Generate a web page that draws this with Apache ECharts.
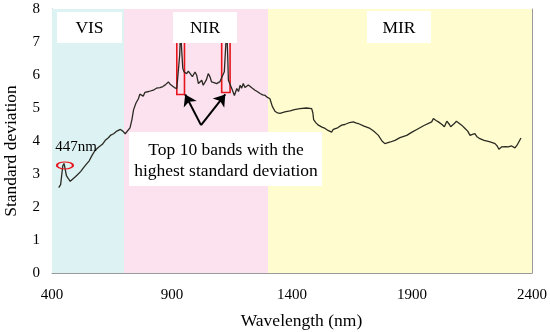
<!DOCTYPE html>
<html><head><meta charset="utf-8">
<script src="https://cdn.jsdelivr.net/npm/echarts@6/dist/echarts.min.js"></script>
<style>html,body{margin:0;padding:0;background:#fff}#c{width:550px;height:332px}</style>
</head><body><div id="c"></div>
<script>
// ---- data ----
const wavelength = [428,436,441,445,450,455,460,468,476,483,495,504,512,520,530,539,547,555,568,580,595,610,622,635,645,657,670,685,695,705,712,725,733,740,750,760,766,774,780,787,795,803,810,822,835,850,862,872,885,892,899,910,920,926,932,936,940,945,950,961,968,975,985,996,1003,1010,1024,1030,1043,1051,1058,1065,1075,1086,1100,1107,1118,1124,1128,1132,1135,1149,1160,1170,1177,1184,1190,1197,1204,1211,1218,1225,1235,1246,1255,1267,1278,1288,1298,1308,1318,1329,1340,1350,1370,1392,1410,1433,1460,1482,1487,1490,1500,1510,1525,1538,1550,1565,1572,1579,1590,1607,1620,1640,1655,1666,1676,1700,1725,1740,1760,1775,1787,1810,1829,1850,1878,1900,1920,1950,1982,1989,2000,2010,2025,2035,2045,2051,2056,2061,2075,2085,2093,2107,2121,2132,2142,2152,2162,2172,2183,2200,2218,2232,2246,2255,2262,2267,2273,2280,2290,2301,2308,2315,2322,2329,2340,2354];
const stdDev = [2.59,2.68,3.0,3.25,3.32,3.15,2.95,2.86,2.78,2.81,2.9,2.96,3.0,3.08,3.18,3.26,3.3,3.4,3.58,3.72,3.82,3.9,4.02,4.1,4.18,4.22,4.3,4.35,4.3,4.22,4.2,4.4,4.65,4.95,5.15,5.28,5.42,5.44,5.36,5.47,5.44,5.5,5.47,5.54,5.6,5.62,5.65,5.7,5.79,5.72,5.69,5.62,5.59,5.62,6.6,7.4,6.8,6.2,6.1,6.04,6.12,6.14,5.95,6.09,5.99,5.74,5.84,5.69,5.85,6.04,5.95,5.79,5.77,5.74,5.8,5.79,6.1,6.9,7.4,6.6,5.84,5.59,5.38,5.59,5.5,5.69,5.6,5.74,5.62,5.59,5.7,5.69,5.6,5.54,5.5,5.44,5.4,5.38,5.32,5.28,5.05,4.9,4.85,4.84,4.88,4.91,4.95,4.98,5.0,4.98,4.85,4.65,4.55,4.48,4.42,4.38,4.32,4.27,4.35,4.38,4.4,4.48,4.5,4.56,4.58,4.55,4.53,4.45,4.38,4.3,4.17,4.0,3.92,3.97,4.02,4.1,4.17,4.27,4.35,4.47,4.58,4.68,4.62,4.58,4.5,4.43,4.6,4.63,4.5,4.43,4.52,4.6,4.58,4.48,4.38,4.3,4.17,4.2,4.22,4.12,4.07,4.02,3.99,3.96,3.92,3.85,3.75,3.72,3.82,3.85,3.83,3.82,3.87,3.85,3.82,3.79,3.9,4.09];
const regionNames = ['VIS','NIR','MIR'];
const regionStart = [400,700,1300];
const regionEnd = [700,1300,2400];
const bandStart = [920,1107];
const bandEnd = [952,1142];
const bandLow = [5.41,5.47];
const bandHigh = 7.3;
const arrowFrom = [1021,4.48];
const arrowTo = [[955,5.41],[1122,5.41]];
const peakLabel = '447nm';
const peakMark = [454,3.26];
const peakLabelAt = [500,3.81];
const xTicks = [400,900,1400,1900,2400];
const yTicks = [0,1,2,3,4,5,6,7,8];

// ---- style ----
const FONT = "'Liberation Serif','Times New Roman',serif";
const regionColors = ['#ddf2f2','#fce1ef','#fffdd0'];

const chart = echarts.init(document.getElementById('c'), null, {renderer:'canvas'});
const axisGray = '#9a9a9a';
chart.setOption({
  animation:false,
  grid:{left:52,right:18,top:9,bottom:59,containLabel:false},
  xAxis:{type:'value',min:xTicks[0],max:xTicks[xTicks.length-1],interval:xTicks[1]-xTicks[0],
    axisLine:{show:true,lineStyle:{color:axisGray}},
    axisTick:{show:true,inside:true,length:4,lineStyle:{color:axisGray}},
    axisLabel:{color:'#000',fontFamily:FONT,fontSize:15,margin:15,formatter:v=>String(v)},
    splitLine:{show:false}},
  yAxis:[{type:'value',min:yTicks[0],max:yTicks[yTicks.length-1],interval:1,
    axisLine:{show:true,lineStyle:{color:axisGray}},
    axisTick:{show:true,inside:true,length:4,lineStyle:{color:axisGray}},
    axisLabel:{color:'#000',fontFamily:FONT,fontSize:15,margin:12},
    splitLine:{show:false}},
    {type:'value',min:0,max:8,position:'right',axisLine:{show:true,lineStyle:{color:axisGray}},
     axisTick:{show:false},axisLabel:{show:false},splitLine:{show:false}}],
  series:[
    {type:'line',data:[],z:1,silent:true,
     markArea:{silent:true,data:regionNames.map((n,i)=>[
        {xAxis:regionStart[i],yAxis:0,itemStyle:{color:regionColors[i]}},
        {xAxis:regionEnd[i],yAxis:8}])}},
    {type:'line',data:wavelength.map((w,i)=>[w,stdDev[i]]),z:3,showSymbol:false,symbol:'none',
     lineStyle:{color:'#2a2a22',width:1.3},silent:true},
    {type:'line',data:[],z:5,silent:true,
     markArea:{silent:true,data:bandStart.map((s,i)=>[
        {xAxis:s,yAxis:bandLow[i],itemStyle:{color:'rgba(0,0,0,0)',borderColor:'#e8141c',borderWidth:1.6}},
        {xAxis:bandEnd[i],yAxis:bandHigh}])},
     markLine:{silent:true,symbol:['none','arrow'],symbolSize:11,
        lineStyle:{color:'#000',width:2,type:'solid'},label:{show:false},
        data:arrowTo.map(t=>[{coord:arrowFrom},{coord:t}])},
     markPoint:{silent:true,data:[
        {coord:peakMark,symbol:'path://M0 10A20 10 0 1 1 40 10A20 10 0 1 1 0 10Z',symbolSize:[16,7],symbolKeepAspect:false,
         itemStyle:{color:'rgba(0,0,0,0)',borderColor:'#e8141c',borderWidth:1.5},label:{show:false}},
        {coord:peakLabelAt,name:peakLabel,symbol:'circle',symbolSize:1,itemStyle:{color:'rgba(0,0,0,0)'},
         label:{show:true,position:'inside',formatter:'{b}',color:'#000',fontFamily:FONT,fontSize:15}}
     ]}}
  ],
  graphic:[
    {type:'rect',z:100,shape:{x:57,y:12,width:65,height:31},style:{fill:'#fff'}},
    {type:'text',z:101,x:89.5,y:28,style:{text:regionNames[0],font:"17.5px "+FONT,fill:'#000',align:'center',verticalAlign:'middle'}},
    {type:'rect',z:100,shape:{x:173,y:12,width:64,height:31},style:{fill:'#fff'}},
    {type:'text',z:101,x:205,y:28,style:{text:regionNames[1],font:"17.5px "+FONT,fill:'#000',align:'center',verticalAlign:'middle'}},
    {type:'rect',z:100,shape:{x:367,y:11,width:64,height:32},style:{fill:'#fff'}},
    {type:'text',z:101,x:399,y:28,style:{text:regionNames[2],font:"17.5px "+FONT,fill:'#000',align:'center',verticalAlign:'middle'}},
    {type:'rect',z:100,shape:{x:129,y:132,width:193,height:54},style:{fill:'#fff'}},
    {type:'text',z:101,x:226,y:160.5,style:{text:'Top 10 bands with the\nhighest standard deviation',font:"17.5px "+FONT,lineHeight:21,fill:'#000',align:'center',verticalAlign:'middle'}},
    {type:'text',z:101,x:301.5,y:321,style:{text:'Wavelength (nm)',font:"17.5px "+FONT,fill:'#000',align:'center',verticalAlign:'middle'}},
    {type:'text',z:101,x:11,y:151,rotation:Math.PI/2,style:{text:'Standard deviation',font:"17.5px "+FONT,fill:'#000',align:'center',verticalAlign:'middle'}}
  ]
});
</script></body></html>
